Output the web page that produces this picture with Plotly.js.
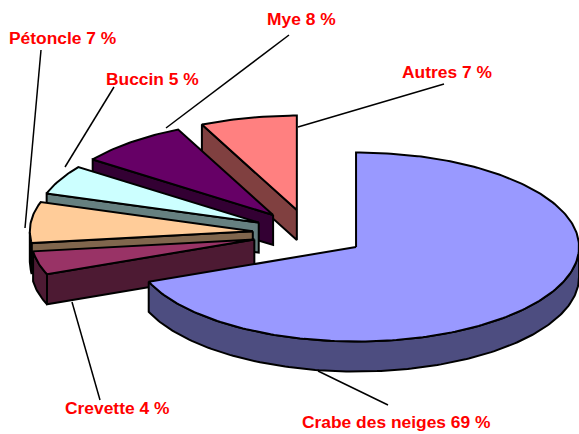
<!DOCTYPE html>
<html><head><meta charset="utf-8">
<script src="https://cdn.plot.ly/plotly-3.0.1.min.js"></script>
<style>html,body{margin:0;padding:0;background:#fff}#c{width:579px;height:434px}</style>
</head><body><div id="c"></div>
<script>
// Data (clockwise from 12 o'clock)
const categories = ['Crabe des neiges','Crevette','Pétoncle','Buccin','Mye','Autres'];
const values = [69,4,7,5,8,7];
const topColors = ['#9999FF','#993366','#FFCC99','#CCFFFF','#660066','#FF8080'];
const sideColors = ['#4D4D80','#4D1A33','#80664D','#668080','#330033','#804040'];
const labelX = [396,117,62,152,301,447];
const labelY = [422,408,38,79,19,72];
const leaderX0 = [318,72,41,114,289,444];
const leaderY0 = [371,302,50,87,35,84];
const leaderX1 = [388,100,25,65,166,298];
const leaderY1 = [405,400,228,167,128,127];

// Projection of the tilted pie
const cx = 309.2, cy = 233.5, rx = 223, ry = 94.5, depth = 30, explode = 0.254;
const RAD = Math.PI/180;
const total = values.reduce((a,b)=>a+b,0);

function sliceGeom(i){
  const before = values.slice(0,i).reduce((a,b)=>a+b,0);
  const a0 = before/total*360, a1 = (before+values[i])/total*360, mid=(a0+a1)/2;
  const tx = cx + explode*rx*Math.sin(mid*RAD), ty = cy - explode*ry*Math.cos(mid*RAD);
  const pts=[[tx,ty]];
  const n=Math.max(2,Math.ceil(a1-a0));
  for(let k=0;k<=n;k++){
    const a=(a0+(a1-a0)*k/n)*RAD;
    pts.push([tx+rx*Math.sin(a), ty-ry*Math.cos(a)]);
  }
  pts.push([tx,ty]);
  return pts;
}

const traces=[];
// back-to-front: last slices first, the big one last
[5,4,3,2,1,0].forEach(i=>{
  const p=sliceGeom(i);
  const wx=[],wy=[];
  let run=[];
  const flush=()=>{
    if(run.length>1){
      run.forEach(q=>{wx.push(q[0]);wy.push(q[1]);});
      run.slice().reverse().forEach(q=>{wx.push(q[0]);wy.push(q[1]+depth);});
      wx.push(run[0][0]);wy.push(run[0][1]);
      wx.push(null);wy.push(null);
    }
    run=[];
  };
  for(let k=0;k<p.length-1;k++){
    const front = p[k+1][0]-p[k][0] < -1e-6;
    const radial = (k===0 || k===p.length-2);
    if(front){
      if(radial) flush();
      if(!run.length) run.push(p[k]);
      run.push(p[k+1]);
      if(radial) flush();
    } else flush();
  }
  flush();
  traces.push({x:wx,y:wy,mode:'lines',fill:'toself',fillcolor:sideColors[i],
    line:{color:'#000',width:2,shape:'linear'},hoverinfo:'skip',showlegend:false,name:categories[i]+' (côté)'});
  traces.push({x:p.map(q=>q[0]),y:p.map(q=>q[1]),mode:'lines',fill:'toself',fillcolor:topColors[i],
    line:{color:'#000',width:2,shape:'linear'},hoverinfo:'skip',showlegend:false,name:categories[i]});
});

const annotations=categories.map((c,i)=>({
  x:labelX[i],y:labelY[i],xref:'x',yref:'y',showarrow:false,
  text:'<b>'+c+' '+values[i]+' %</b>',
  font:{family:'Liberation Sans, Arial, sans-serif',size:17.4,color:'#FF0000'},
  xanchor:'center',yanchor:'middle'
}));
const shapes=categories.map((c,i)=>({
  type:'line',xref:'x',yref:'y',x0:leaderX0[i],y0:leaderY0[i],x1:leaderX1[i],y1:leaderY1[i],
  line:{color:'#000',width:1.5},layer:'below'
}));

Plotly.newPlot('c',traces,{
  width:579,height:434,margin:{l:0,r:0,t:0,b:0},
  paper_bgcolor:'#fff',plot_bgcolor:'#fff',showlegend:false,hovermode:false,
  xaxis:{range:[0,579],visible:false,fixedrange:true},
  yaxis:{range:[434,0],visible:false,fixedrange:true},
  annotations,shapes
},{displayModeBar:false,staticPlot:true});
</script></body></html>
